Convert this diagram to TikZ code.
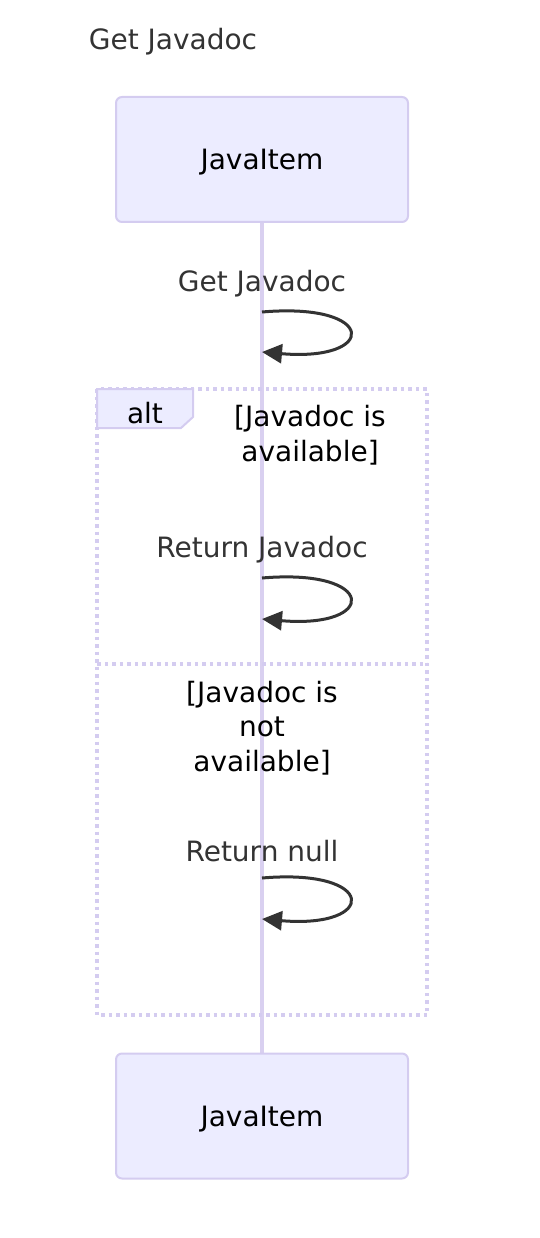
\documentclass[tikz,border=0pt]{standalone}
\usepackage{fontspec}
\setmainfont{DejaVu Sans}
\usetikzlibrary{arrows.meta}
\definecolor{actfill}{HTML}{ECECFF}
\definecolor{actline}{HTML}{D4CCF0}
\definecolor{lifeln}{HTML}{D9D0F0}
\definecolor{txtgray}{HTML}{333333}
\tikzset{
  actor/.style={draw=actline, line width=2pt, fill=actfill, rounded corners=6pt, minimum width=292pt, minimum height=125pt},
  acttext/.style={font=\fontsize{28}{32}\selectfont, text=black},
  msg/.style={font=\fontsize{28}{32}\selectfont, text=txtgray},
  cond/.style={font=\fontsize{28}{34.5}\selectfont, text=black, align=center},
  loop/.style={draw=txtgray, line width=3pt, -{Triangle[length=20pt,width=19pt]}},
  frame/.style={draw=actline, line width=3.5pt, dash pattern=on 3.5pt off 4pt},
}
\begin{document}
\begin{tikzpicture}[x=1pt,y=-1pt]
\useasboundingbox (0,0) rectangle (540,1238);
\node[msg] (title) at (173,42) {Get Javadoc};
% lifeline
\coordinate (lt) at (262,222);
\coordinate (lb) at (262,1053);
\draw[lifeln, line width=3.5pt] (lt) -- (lb);
% actors
\node[actor] (top) at (262,159.5) {};
\node[acttext] (toptext) at (262,162.5) {JavaItem};
\node[actor] (bot) at (262,1116) {};
\node[acttext] (bottext) at (262,1119) {JavaItem};
% alt frame
\draw[frame] (97,389) rectangle (427,1015);
\draw[frame] (97,664) -- (427,664);
\draw[draw=actline, line width=2pt, fill=actfill] (97,389) -- (193,389) -- (193,417) -- (181,428) -- (97,428) -- cycle;
\node[font=\fontsize{28}{32}\selectfont] (alt) at (145,413) {alt};
\node[cond] (c1) at (310,435) {[Javadoc is\\available]};
\node[cond] (c2) at (262,728) {[Javadoc is\\not\\available]};
% messages
\node[msg] (m1) at (262,284) {Get Javadoc};
\coordinate (a1) at (262,312);
\coordinate (b1) at (262,352);
\draw[loop] (a1) .. controls (378,302) and (378,362) .. (b1);
\node[msg] (m2) at (262,550) {Return Javadoc};
\coordinate (a2) at (262,578);
\coordinate (b2) at (262,619);
\draw[loop] (a2) .. controls (378,568) and (378,629) .. (b2);
\node[msg] (m3) at (262,851) {Return null};
\coordinate (a3) at (262,878);
\coordinate (b3) at (262,919);
\draw[loop] (a3) .. controls (378,868) and (378,929) .. (b3);
\end{tikzpicture}
\end{document}
